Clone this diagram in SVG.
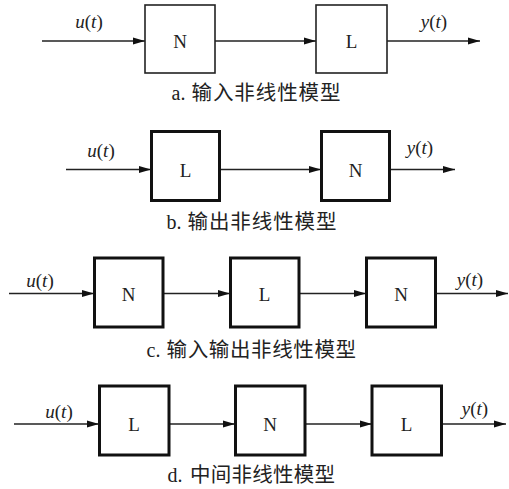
<svg xmlns="http://www.w3.org/2000/svg" width="509" height="489" viewBox="0 0 509 489">
<style>
.bx{fill:#fff;stroke:#111;stroke-width:3}
.bxa{fill:#fff;stroke:#222;stroke-width:1.6}
.ln{stroke:#222;stroke-width:1.6;fill:none;marker-end:url(#ah)}
.lb{font-family:"Liberation Serif",serif;font-size:19px;fill:#222;text-anchor:middle}
.sg{font-family:"Liberation Serif",serif;font-size:19px;fill:#222;text-anchor:middle}
.sg tspan.i{font-style:italic}
.capl{font-family:"Liberation Serif",serif;font-size:20px;fill:#222}
.cap{font-family:"Noto Sans CJK SC",sans-serif;font-size:20.5px;fill:#222}
</style>
<defs>
<marker id="ah" markerWidth="12" markerHeight="8" refX="12" refY="4" orient="auto" markerUnits="userSpaceOnUse">
<path d="M0,0.5 L12,4 L0,7.5 Z" fill="#111"/>
</marker>
</defs>
<g id="connectors">
<line class="ln" x1="42" y1="41" x2="145" y2="41"/>
<line class="ln" x1="215" y1="41" x2="316" y2="41"/>
<line class="ln" x1="387" y1="41" x2="480" y2="41"/>
<line class="ln" x1="66" y1="169.5" x2="151" y2="169.5"/>
<line class="ln" x1="220" y1="169.5" x2="321" y2="169.5"/>
<line class="ln" x1="390" y1="169.5" x2="455" y2="169.5"/>
<line class="ln" x1="9" y1="293.5" x2="94" y2="293.5"/>
<line class="ln" x1="163" y1="293.5" x2="230" y2="293.5"/>
<line class="ln" x1="299" y1="293.5" x2="366" y2="293.5"/>
<line class="ln" x1="436" y1="293.5" x2="508" y2="293.5"/>
<line class="ln" x1="14" y1="424" x2="99" y2="424"/>
<line class="ln" x1="169" y1="424" x2="235" y2="424"/>
<line class="ln" x1="305" y1="424" x2="372" y2="424"/>
<line class="ln" x1="442" y1="424" x2="506" y2="424"/>
</g>
<g id="row-a">
<g id="a-N"><rect class="bxa" x="145" y="5" width="70" height="68"/><text class="lb" x="180" y="48">N</text></g>
<g id="a-L"><rect class="bxa" x="316" y="5" width="71" height="68"/><text class="lb" x="351.5" y="48">L</text></g>
<text class="sg" x="89" y="28"><tspan class="i">u</tspan>(<tspan class="i">t</tspan>)</text>
<text class="sg" x="434" y="28"><tspan class="i">y</tspan>(<tspan class="i">t</tspan>)</text>
<text class="capl" x="171.5" y="99.5">a.</text>
<text class="cap" x="191.5" y="99.5" textLength="149" lengthAdjust="spacing">输入非线性模型</text>
</g>
<g id="row-b">
<g id="b-L"><rect class="bx" x="151.5" y="131.5" width="68" height="69"/><text class="lb" x="185.5" y="176.5">L</text></g>
<g id="b-N"><rect class="bx" x="321.5" y="131.5" width="68" height="69"/><text class="lb" x="355.5" y="176.5">N</text></g>
<text class="sg" x="101" y="157"><tspan class="i">u</tspan>(<tspan class="i">t</tspan>)</text>
<text class="sg" x="420" y="154"><tspan class="i">y</tspan>(<tspan class="i">t</tspan>)</text>
<text class="capl" x="166.5" y="228.5">b.</text>
<text class="cap" x="187.5" y="228.5" textLength="149" lengthAdjust="spacing">输出非线性模型</text>
</g>
<g id="row-c">
<g id="c-N1"><rect class="bx" x="94.5" y="258" width="68.5" height="69"/><text class="lb" x="128.5" y="300.5">N</text></g>
<g id="c-L"><rect class="bx" x="230.5" y="258" width="68.5" height="69"/><text class="lb" x="264.5" y="300.5">L</text></g>
<g id="c-N2"><rect class="bx" x="366.5" y="258" width="69" height="69"/><text class="lb" x="401" y="300.5">N</text></g>
<text class="sg" x="40" y="286.5"><tspan class="i">u</tspan>(<tspan class="i">t</tspan>)</text>
<text class="sg" x="470" y="285.5"><tspan class="i">y</tspan>(<tspan class="i">t</tspan>)</text>
<text class="capl" x="146.5" y="356.5">c.</text>
<text class="cap" x="166.5" y="356.5" textLength="189.5" lengthAdjust="spacing">输入输出非线性模型</text>
</g>
<g id="row-d">
<g id="d-L1"><rect class="bx" x="99.5" y="386" width="69.5" height="69"/><text class="lb" x="134" y="431">L</text></g>
<g id="d-N"><rect class="bx" x="235.5" y="386" width="69.5" height="69"/><text class="lb" x="270" y="431">N</text></g>
<g id="d-L2"><rect class="bx" x="372" y="386" width="69.5" height="69"/><text class="lb" x="406.5" y="431">L</text></g>
<text class="sg" x="59" y="418"><tspan class="i">u</tspan>(<tspan class="i">t</tspan>)</text>
<text class="sg" x="475" y="415"><tspan class="i">y</tspan>(<tspan class="i">t</tspan>)</text>
<text class="capl" x="167.5" y="481.5">d.</text>
<text class="cap" x="190" y="481.5" textLength="145" lengthAdjust="spacing">中间非线性模型</text>
</g>
</svg>
